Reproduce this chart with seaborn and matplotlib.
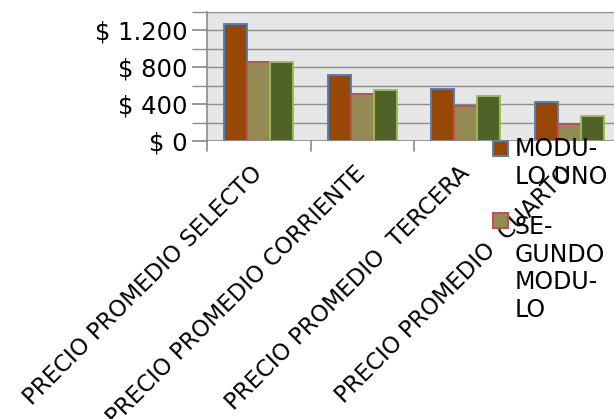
import matplotlib
matplotlib.use("Agg")
import matplotlib.pyplot as plt
import seaborn as sns
import pandas as pd
from matplotlib.ticker import MultipleLocator, FuncFormatter
from matplotlib.patches import Rectangle
from matplotlib.legend_handler import HandlerPatch

categories = ["PRECIO PROMEDIO SELECTO", "PRECIO PROMEDIO CORRIENTE",
              "PRECIO PROMEDIO  TERCERA", "PRECIO PROMEDIO  CUARTO"]
series = ["MODULO UNO", "SEGUNDO MODULO", "TERCER MODULO"]
modulo_uno = [1265, 712, 567, 418]
segundo_modulo = [862, 513, 382, 189]
tercer_modulo = [858, 549, 487, 269]
legend_labels = ["MODU-\nLO UNO", "SE-\nGUNDO\nMODU-\nLO"]

rows = []
for name, vals in zip(series, [modulo_uno, segundo_modulo, tercer_modulo]):
    for c, v in zip(categories, vals):
        rows.append({"cat": c, "serie": name, "valor": v})
df = pd.DataFrame(rows)

fills = ["#974806", "#948A54", "#4F6228"]
edges = ["#4F81BD", "#C0504D", "#9BBB59"]

sns.set_theme(style="white")
plt.rcParams['font.family'] = ['DejaVu Sans']
plt.rcParams['text.color'] = 'black'

fig = plt.figure(figsize=(6.14, 4.19), dpi=100)
ax = fig.add_axes([207/614, (419-141)/419, 414/614, 129/419])
ax.set_facecolor("#E6E6E6")

sns.barplot(data=df, x="cat", y="valor", hue="serie", palette=fills,
            width=0.67, ax=ax, legend=False, saturation=1)
for cont, ec in zip(ax.containers, edges):
    for p in cont:
        p.set_edgecolor(ec)
        p.set_linewidth(1.4)
        p.set_zorder(3)

ax.set_ylim(0, 1400)
ax.set_xlim(-0.5, 3.5)
ax.yaxis.set_major_locator(MultipleLocator(400))
ax.yaxis.set_minor_locator(MultipleLocator(200))
ax.yaxis.set_major_formatter(FuncFormatter(lambda v, p: "$ " + f"{int(v):,}".replace(",", ".")))
ax.grid(True, axis="y", which="both", color="#8C8C8C", linewidth=1, zorder=0)
ax.set_axisbelow(True)
for s in ["top", "right", "bottom"]:
    ax.spines[s].set_visible(False)
ax.spines["left"].set_color("#8C8C8C")
ax.spines["left"].set_linewidth(1.2)
ax.axhline(0, color="#8C8C8C", linewidth=1.2, zorder=4)

ax.tick_params(axis="y", which="both", left=True, length=11, color="#8C8C8C",
               labelsize=17.5, pad=3, labelcolor="black")
ax.tick_params(axis="x", bottom=False, labelsize=16.5, pad=15, labelcolor="black")
ax.set_xticks(range(len(categories)))
ax.set_xticklabels(categories, rotation=45, ha="right", va="center",
                   rotation_mode="anchor")
for i in range(len(categories) + 1):
    ax.plot([i - 0.5, i - 0.5], [0, -0.08], transform=ax.get_xaxis_transform(),
            color="#8C8C8C", linewidth=1.2, clip_on=False)
ax.set_xlabel("")
ax.set_ylabel("")


def make_handler(nlines):
    def patch_func(legend, orig_handle, xdescent, ydescent, width, height, fontsize):
        shift = (nlines - 1) * 12.1 - 1.1
        return Rectangle((-xdescent, -ydescent + shift), width, height)
    return HandlerPatch(patch_func=patch_func)


handles = [c[0] for c in ax.containers[:2]]
hmap = {h: make_handler(lbl.count("\n") + 1) for h, lbl in zip(handles, legend_labels)}
leg = fig.legend(handles, legend_labels, loc="upper left",
                 bbox_to_anchor=(493/614, 1 - 137/419), frameon=False,
                 fontsize=17, handlelength=0.62, handleheight=0.62,
                 handletextpad=0.3, labelspacing=1.1, borderaxespad=0,
                 borderpad=0, handler_map=hmap)
for t in leg.get_texts():
    t.set_color("black")

fig.savefig("out.png", dpi=100)
